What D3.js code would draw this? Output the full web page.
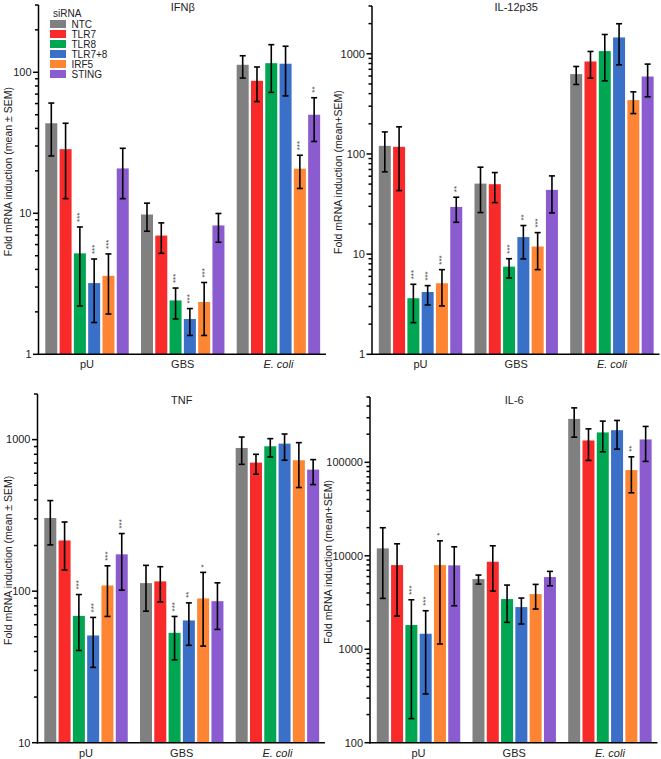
<!DOCTYPE html>
<html><head><meta charset="utf-8">
<script src="https://cdn.jsdelivr.net/npm/d3@7"></script>
<style>
body{margin:0;background:#fff;}
svg{display:block;font-family:"Liberation Sans",Arial,sans-serif;}
</style></head>
<body>
<svg id="chart" width="661" height="759"></svg>
<script>
const groups = ["pU", "GBS", "E. coli"];
const series = ["NTC", "TLR7", "TLR8", "TLR7+8", "IRF5", "STING"];
const colors = ["#808080", "#f82a2a", "#00a651", "#3a70c8", "#fd8534", "#8b5cd0"];

// IFNβ
const ifnbMean = [43.5,28.5,5.2,3.2,3.6,20.8, 9.8,6.95,2.41,1.78,2.35,8.2, 113,87,116,115,20.7,50];
const ifnbLow  = [25.5,12.7,2.2,1.68,1.93,12.7, 7.46,5.2,1.78,1.36,1.36,6.23, 91,62,72,68,15,32.3];
const ifnbHigh = [60.5,43.5,8.0,4.74,5.15,28.9, 11.8,8.55,2.95,2.11,3.23,9.97, 131,109,157,153,25.8,66];
const ifnbStars = ["","","***","***","***","", "","","***","***","***","", "","","","","***","**"];

// IL-12p35
const il12Mean = [120.5,117.8,3.63,4.19,5.12,29.6, 50.6,49.9,7.5,14.8,11.9,43.8, 627,838,1064,1456,345,593];
const il12Low  = [66.3,43.1,2.07,3.11,3.04,20.8, 26,32.7,5.78,8.96,7.0,25.8, 494,572,537,776,253,372];
const il12High = [166,186.6,5.0,4.85,7.0,37, 73.8,65.2,9.0,19.3,16.4,60.4, 747,1055,1559,1995,417,789];
const il12Stars = ["","","***","***","***","**", "","","***","**","***","", "","","","","",""];

// TNF
const tnfMean = [304,216,68.7,51,109,175, 113,116,53.1,64.1,89.5,85.9, 881,705,904,941,731,634];
const tnfLow  = [202,138,40.6,31.4,68.1,101.6, 73.8,85,35.2,43.9,43.4,55.9, 687,591,768,731,483,505];
const tnfHigh = [396,286,95,67.1,147,240, 148,145,68.1,83.7,133,113.5, 1040,800,1015,1089,955,738];
const tnfStars = ["","","***","***","***","***", "","","***","**","*","", "","","","","",""];

// IL-6
const il6Mean = [12000,7950,1815,1465,7950,7900, 5634,8630,3443,2826,3893,5920, 291700,171400,208900,220800,82600,175800];
const il6Low  = [3500,2265,181,332,1137,2918, 4980,4190,1940,1862,2692,4775, 186000,104700,129500,138400,47200,102300];
const il6High = [19950,13430,3383,2582,14450,12480, 6220,12790,4860,3530,4943,6810, 382500,228000,276000,280500,114500,242100];
const il6Stars = ["","","***","***","*","", "","","","","","", "","","","","**",""];

const panels = [
  {title:"IFNβ", mean:ifnbMean, low:ifnbLow, high:ifnbHigh, stars:ifnbStars, domain:[1,300],
   ax:38.5, bottom:354.3, top:5, ylab:"Fold mRNA induction (mean ± SEM)", ylabX:8, titleY:11, legend:true},
  {title:"IL-12p35", mean:il12Mean, low:il12Low, high:il12High, stars:il12Stars, domain:[1,3000],
   ax:372, bottom:354.3, top:6, ylab:"Fold mRNA induction (mean+SEM)", ylabX:338, titleY:11},
  {title:"TNF", mean:tnfMean, low:tnfLow, high:tnfHigh, stars:tnfStars, domain:[10,2000],
   ax:37.5, bottom:742.7, top:394, ylab:"Fold mRNA induction (mean ± SEM)", ylabX:8, titleY:404},
  {title:"IL-6", mean:il6Mean, low:il6Low, high:il6High, stars:il6Stars, domain:[100,500000],
   ax:370, bottom:742.7, top:397, ylab:"Fold mRNA induction (mean+SEM)", ylabX:328, titleY:404}
];

const svg = d3.select("#chart");

panels.forEach(p => {
  const g = svg.append("g");
  const y = d3.scaleLog().domain(p.domain).range([p.bottom, p.top]);
  const step = 95.7;
  const x0 = d3.scaleBand().domain(groups)
    .range([p.ax, p.ax + step * (3 - 0.128 + 2 * 0.071)])
    .paddingInner(0.128).paddingOuter(0.071);
  const x1 = d3.scaleBand().domain(series).range([0, x0.bandwidth()]).paddingInner(0.16);

  const rows = [];
  groups.forEach((gr, gi) => series.forEach((s, si) => {
    const k = gi * series.length + si;
    rows.push({gr, s, si, mean:p.mean[k], low:p.low[k], high:p.high[k], star:p.stars[k]});
  }));

  // bars
  g.selectAll("rect.bar").data(rows).join("rect")
    .attr("class","bar")
    .attr("x", d => x0(d.gr) + x1(d.s))
    .attr("width", x1.bandwidth())
    .attr("y", d => y(d.mean))
    .attr("height", d => p.bottom - y(d.mean))
    .attr("fill", d => colors[d.si]);

  // error bars
  const cx = d => x0(d.gr) + x1(d.s) + x1.bandwidth() / 2;
  const eb = g.selectAll("g.eb").data(rows).join("g").attr("class","eb")
    .attr("stroke","#000").attr("stroke-width",1.6).attr("fill","none");
  eb.append("line").attr("x1",cx).attr("x2",cx).attr("y1",d=>y(d.low)).attr("y2",d=>y(d.high));
  eb.append("line").attr("x1",d=>cx(d)-3).attr("x2",d=>cx(d)+3).attr("y1",d=>y(d.low)).attr("y2",d=>y(d.low));
  eb.append("line").attr("x1",d=>cx(d)-3).attr("x2",d=>cx(d)+3).attr("y1",d=>y(d.high)).attr("y2",d=>y(d.high));

  // stars
  g.selectAll("text.star").data(rows.filter(d => d.star)).join("text")
    .attr("class","star")
    .attr("transform", d => `translate(${cx(d)+2.5},${y(d.high) - 5}) rotate(-90)`)
    .attr("font-size", 8).attr("fill", "#444")
    .text(d => d.star);

  // y axis
  const lo = Math.log10(p.domain[0]), hi = Math.log10(p.domain[1]);
  const major = d3.range(lo, Math.floor(hi) + 1).map(e => Math.pow(10, e));
  const minor = [];
  major.forEach(m => { for (let k = 2; k <= 9; k++) { const v = m * k; if (v <= p.domain[1] * 1.0001) minor.push(v); } });
  const ax = g.append("g").attr("stroke","#000").attr("stroke-width",1.5);
  ax.append("line").attr("x1",p.ax).attr("x2",p.ax).attr("y1",y(p.domain[1])).attr("y2",p.bottom+0.75);
  ax.selectAll("line.maj").data(major).join("line").attr("class","maj")
    .attr("x1",p.ax-5.5).attr("x2",p.ax).attr("y1",d=>y(d)).attr("y2",d=>y(d));
  ax.selectAll("line.min").data(minor).join("line").attr("class","min")
    .attr("x1",p.ax-3.5).attr("x2",p.ax).attr("y1",d=>y(d)).attr("y2",d=>y(d));
  g.selectAll("text.tl").data(major).join("text").attr("class","tl")
    .attr("x", p.ax - 7).attr("y", d => y(d)).attr("dy","0.35em")
    .attr("text-anchor","end").attr("font-size",11).attr("fill","#222")
    .text(d => d3.format("d")(d));

  // x axis
  g.append("line").attr("x1",p.ax-0.75).attr("x2",x0.range()[1]-1).attr("y1",p.bottom).attr("y2",p.bottom)
    .attr("stroke","#000").attr("stroke-width",1.5);
  g.selectAll("text.cat").data(groups).join("text").attr("class","cat")
    .attr("x", d => x0(d) + x0.bandwidth()/2).attr("y", p.bottom + 14)
    .attr("text-anchor","middle").attr("font-size",11).attr("fill","#222")
    .attr("font-style", d => d === "E. coli" ? "italic" : "normal")
    .text(d => d);

  // title
  g.append("text").attr("x", x0(groups[1]) + x0.bandwidth()/2).attr("y", p.titleY)
    .attr("text-anchor","middle").attr("font-size",11).attr("fill","#222").text(p.title);

  // y label
  g.append("text")
    .attr("transform", `translate(${p.ylabX},${(p.top + p.bottom)/2 - 8}) rotate(-90)`)
    .attr("text-anchor","middle").attr("dy","0.35em").attr("font-size",10.5).attr("fill","#222")
    .text(p.ylab);

  if (p.legend) {
    const lg = g.append("g");
    lg.append("text").attr("x",53).attr("y",13).attr("dy","0.35em").attr("font-size",10).attr("fill","#222").text("siRNA");
    const it = lg.selectAll("g.li").data(series).join("g").attr("class","li")
      .attr("transform",(d,i)=>`translate(50,${24 + i*10})`);
    it.append("rect").attr("x",0).attr("y",-4).attr("width",16).attr("height",8).attr("fill",(d,i)=>colors[i]);
    it.append("text").attr("x",21.5).attr("y",0).attr("dy","0.35em").attr("font-size",10).attr("fill","#222").text(d=>d);
  }
});
</script>
</body></html>
